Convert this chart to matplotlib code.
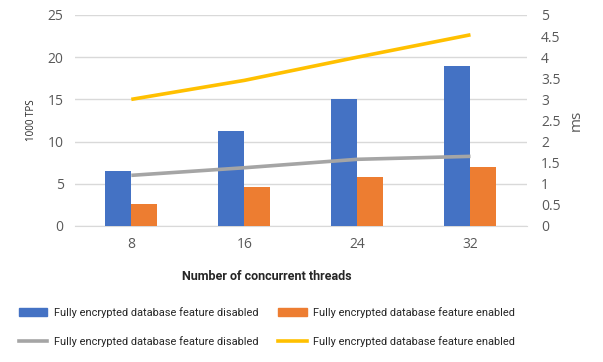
import numpy as np
import matplotlib.pyplot as plt
from matplotlib.patches import Patch
from matplotlib.lines import Line2D

threads = ['8', '16', '24', '32']
tps_disabled = [6.55, 11.3, 15.0, 19.0]
tps_enabled = [2.6, 4.6, 5.85, 7.0]
ms_disabled = [1.2, 1.38, 1.58, 1.65]
ms_enabled = [3.0, 3.45, 4.0, 4.53]

label_off = 'Fully encrypted database feature disabled'
label_on = 'Fully encrypted database feature enabled'

blue = '#4472c4'
orange = '#ed7d31'
gray = '#a5a5a5'
yellow = '#ffc000'
grid_c = '#d9d9d9'
text_c = '#595959'

plt.rcParams['font.family'] = ['Open Sans', 'DejaVu Sans']

fig = plt.figure(figsize=(6.03, 3.62), dpi=100)
ax = fig.add_axes([0.124, 0.3757, 0.75, 0.583])
ax2 = ax.twinx()

x = np.arange(len(threads))
w = 0.23
ax.bar(x - w / 2, tps_disabled, w, color=blue, zorder=3)
ax.bar(x + w / 2, tps_enabled, w, color=orange, zorder=3)
ax2.plot(x, ms_disabled, color=gray, lw=2.6, solid_capstyle='butt', zorder=4)
ax2.plot(x, ms_enabled, color=yellow, lw=2.6, solid_capstyle='butt', zorder=4)

ax.set_xlim(-0.5, 3.5)
ax.set_ylim(0, 25)
ax2.set_ylim(0, 5)
ax.set_yticks(range(0, 26, 5))
ax2.set_yticks(np.arange(0, 5.01, 0.5))
ax2.set_yticklabels(['0', '0.5', '1', '1.5', '2', '2.5', '3', '3.5', '4', '4.5', '5'])
ax.set_xticks(x)
ax.set_xticklabels(threads)
ax.grid(axis='y', color=grid_c, lw=1, zorder=0)
ax.set_axisbelow(True)

for a in (ax, ax2):
    for s in a.spines.values():
        s.set_visible(False)
    a.tick_params(length=0, labelsize=10, labelcolor=text_c)
ax.spines['bottom'].set_visible(True)
ax.spines['bottom'].set_color(grid_c)
ax.tick_params(axis='y', pad=8)
ax.tick_params(axis='x', pad=8)
ax2.tick_params(axis='y', pad=10)

ax.set_ylabel('1000 TPS', fontsize=7, color='#262626', labelpad=8)
ax2.set_ylabel('ms', fontsize=11, color=text_c, labelpad=6)

fig.text(0.443, 0.235, 'Number of concurrent threads', ha='center', va='center',
         fontsize=9, fontweight='bold', color='#262626', family='Roboto')

handles = [Patch(color=blue), Line2D([], [], color=gray, lw=2.6),
           Patch(color=orange), Line2D([], [], color=yellow, lw=2.6)]
labels = [label_off, label_off, label_on, label_on]
fig.legend(handles, labels, ncol=2, loc='upper left', bbox_to_anchor=(0.015, 0.18),
           frameon=False, prop={'family': 'Roboto', 'size': 7.9},
           handlelength=2.6, handletextpad=0.6, columnspacing=1.8, labelspacing=1.7,
           labelcolor='#262626')

fig.savefig('out.png', dpi=100)
